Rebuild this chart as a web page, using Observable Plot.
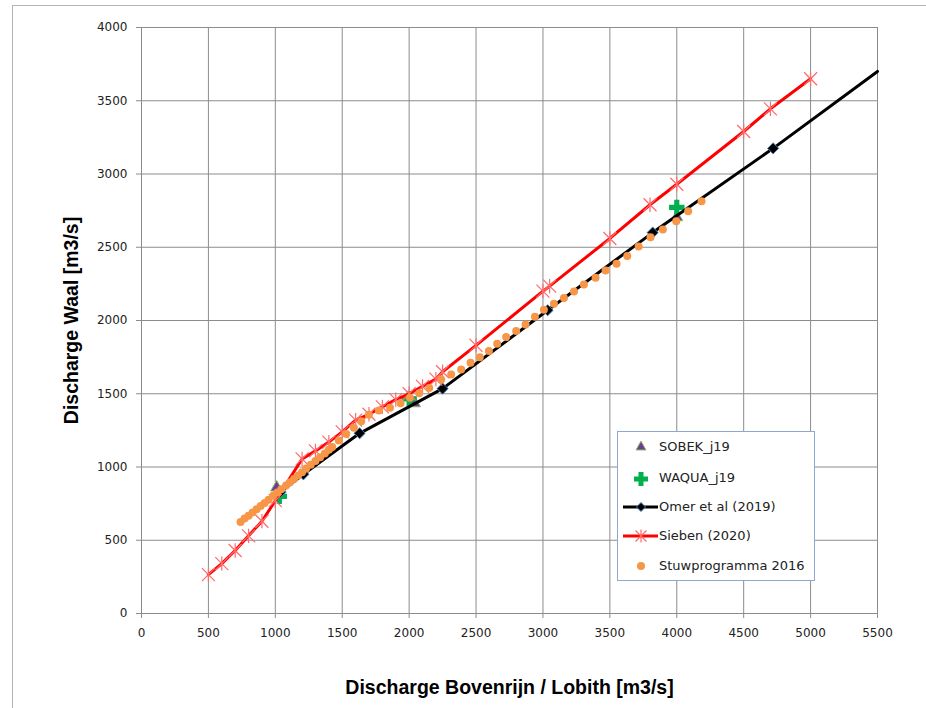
<!DOCTYPE html>
<html><head><meta charset="utf-8">
<script src="https://cdn.jsdelivr.net/npm/d3@7"></script>
<script src="https://cdn.jsdelivr.net/npm/@observablehq/plot@0.6"></script>
<style>
body{margin:0;background:#fff;}
#wrap{position:relative;width:926px;height:708px;overflow:hidden;background:#fff;}
#frame{position:absolute;left:12px;top:5px;width:1000px;height:800px;border-left:1px solid #b4b4b4;border-top:1px solid #b4b4b4;}
#chart{position:absolute;left:0;top:0;}
#legend{position:absolute;left:617px;top:431px;width:196px;height:148px;border:1px solid #8fa8d0;background:#fff;font:13px "DejaVu Sans",sans-serif;color:#222;}
#legend .row{position:absolute;left:0;height:20px;line-height:20px;}
#legend svg{position:absolute;left:0;top:0;}
#legend span{position:absolute;left:41px;white-space:nowrap;}
g[aria-label="x-axis label"], g[aria-label="y-axis label"]{font:bold 19.5px "Liberation Sans",Arial,sans-serif;fill:#000;}
</style>
</head><body>
<div id="wrap"><div id="frame"></div><div id="chart"></div><div id="legend"></div></div>
<script>
// ---- data ----
const xTicks = [0,500,1000,1500,2000,2500,3000,3500,4000,4500,5000,5500];
const yTicks = [0,500,1000,1500,2000,2500,3000,3500,4000];

const sobekX = [1010, 2040, 4000];
const sobekY = [860, 1435, 2705];

const waquaX = [1030, 2000, 4000];
const waquaY = [800, 1465, 2772];

const omerX = [1040, 1210, 1630, 2250, 3035, 3820, 4720, 5500];
const omerY = [830, 950, 1230, 1535, 2070, 2600, 3175, 3700];

const siebenX = [500,600,700,800,900,1000,1200,1300,1400,1500,1600,1700,1800,1900,2000,2100,2200,2250,2500,3000,3050,3500,3800,4000,4500,4700,5000];
const siebenY = [265,340,430,530,630,770,1055,1110,1170,1240,1320,1360,1410,1460,1500,1550,1600,1650,1830,2200,2235,2560,2790,2930,3290,3445,3650];

const stuwX = [740,770,800,830,860,890,920,950,985,1015,1045,1080,1110,1140,1170,1200,1230,1265,1300,1335,1370,1400,1425,1475,1530,1587,1642,1699,1774,1857,1936,2006,2075,2150,2239,2314,2389,2459,2528,2596,2658,2725,2800,2870,2940,3007,3082,3157,3232,3306,3393,3468,3550,3630,3715,3804,3896,3996,4085,4185];
const stuwY = [625,648,668,690,712,733,755,776,803,826,848,874,896,918,942,965,990,1015,1041,1067,1093,1117,1136,1181,1225,1268,1313,1357,1386,1404,1436,1472,1503,1540,1597,1631,1666,1711,1750,1791,1841,1887,1928,1973,2025,2073,2114,2153,2198,2246,2292,2341,2387,2440,2505,2569,2621,2678,2746,2814];

const seriesNames = ["SOBEK_j19","WAQUA_j19","Omer et al (2019)","Sieben (2020)","Stuwprogramma 2016"];

// ---- tables ----
const zip = (xs, ys) => xs.map((x, i) => ({x, y: ys[i]}));
const sobek = zip(sobekX, sobekY);
const waqua = zip(waquaX, waquaY);
const omer = zip(omerX, omerY);
const omerMarks = omer.slice(0, -1);
const sieben = zip(siebenX, siebenY);
const stuw = zip(stuwX, stuwY);

// Excel-style star marker: X plus vertical bar
const star = {
  draw(ctx, size) {
    const r = Math.sqrt(size / Math.PI);
    ctx.moveTo(-r, -r); ctx.lineTo(r, r);
    ctx.moveTo(r, -r); ctx.lineTo(-r, r);
    ctx.moveTo(0, -r * 1.1); ctx.lineTo(0, r * 1.1);
  }
};

const C = {red:"#ff0000", star:"#ff6a6a", black:"#000", diaStroke:"#4a7ebb", orange:"#f79646", green:"#00b050", purple:"#6a3d9a", olive:"#9bbb59"};

const chart = Plot.plot({
  width: 926, height: 708,
  marginLeft: 141, marginRight: 49, marginTop: 27, marginBottom: 95,
  x: {domain: [0, 5500]},
  y: {domain: [0, 4000]},
  style: {fontFamily: "DejaVu Sans, sans-serif", fontSize: "12px", color: "#222", background: "transparent", overflow: "visible"},
  marks: [
    Plot.gridX(xTicks, {stroke: "#8c8c8c", strokeOpacity: 1, strokeWidth: 1}),
    Plot.gridY(yTicks, {stroke: "#8c8c8c", strokeOpacity: 1, strokeWidth: 1}),
    Plot.axisX(xTicks, {tickSize: 5, tickPadding: 10, fontSize: 12, stroke: "#8c8c8c", fill: "#222", tickFormat: d => `${d}`,
      label: "Discharge Bovenrijn / Lobith [m3/s]", labelAnchor: "center", labelOffset: 80, labelArrow: "none"}),
    Plot.axisY(yTicks, {tickSize: 5, tickPadding: 9, fontSize: 12, stroke: "#8c8c8c", fill: "#222", tickFormat: d => `${d}`,
      label: "Discharge Waal [m3/s]", labelAnchor: "center", labelOffset: 77, labelArrow: "none"}),
    Plot.dot(sobek, {x: "x", y: "y", symbol: "triangle", r: 4.5, fill: C.purple, stroke: C.olive, strokeWidth: 1}),
    Plot.dot(waqua, {x: "x", y: "y", symbol: "cross", r: 6.5, fill: C.green, stroke: "none"}),
    Plot.line(omer, {x: "x", y: "y", stroke: C.black, strokeWidth: 3}),
    Plot.dot(omerMarks, {x: "x", y: "y", symbol: "diamond2", r: 5, fill: C.black, stroke: C.diaStroke, strokeWidth: 1}),
    Plot.line(sieben, {x: "x", y: "y", stroke: C.red, strokeWidth: 3}),
    Plot.dot(sieben, {x: "x", y: "y", symbol: star, r: 6.5, fill: "none", stroke: C.star, strokeWidth: 1.2}),
    Plot.dot(stuw, {x: "x", y: "y", r: 4, fill: C.orange, stroke: "none"})
  ]
});
document.getElementById("chart").append(chart);

// ---- legend ----
const lg = document.getElementById("legend");
const rowsY = [5, 36, 65, 94, 124];
const glyphs = [
  `<path d="M23,4 L28,13 L18,13 Z" fill="${C.purple}" stroke="${C.olive}" stroke-width="1"/>`,
  `<path d="M20.5,4h5v4.5h4.5v5h-4.5v4.5h-5v-4.5h-4.5v-5h4.5z" fill="${C.green}"/>`,
  `<line x1="5" y1="10" x2="40" y2="10" stroke="#000" stroke-width="3"/><path d="M23,5.5 L27.5,10 L23,14.5 L18.5,10 Z" fill="#000" stroke="${C.diaStroke}" stroke-width="1"/>`,
  `<line x1="5" y1="10" x2="40" y2="10" stroke="${C.red}" stroke-width="3"/><path d="M17.5,4.5L28.5,15.5M28.5,4.5L17.5,15.5M23,3.5V16.5" stroke="${C.star}" stroke-width="1.2" fill="none"/>`,
  `<circle cx="23" cy="10" r="4" fill="${C.orange}"/>`
];
seriesNames.forEach((name, i) => {
  const row = document.createElement("div");
  row.className = "row";
  row.style.top = rowsY[i] + "px";
  row.style.width = "196px";
  row.innerHTML = `<svg width="44" height="20">${glyphs[i]}</svg><span>${name}</span>`;
  lg.append(row);
});
</script>
</body></html>
